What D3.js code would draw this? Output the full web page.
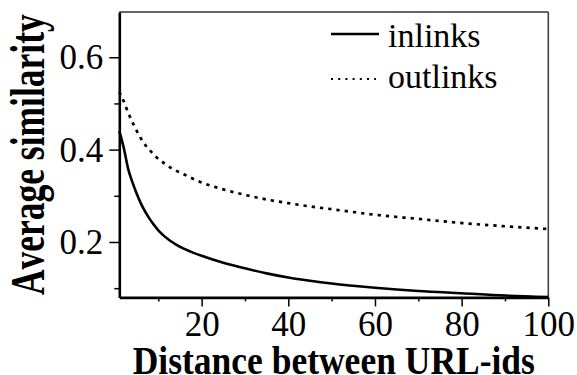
<!DOCTYPE html>
<html>
<head>
<meta charset="utf-8">
<script src="https://cdn.jsdelivr.net/npm/d3@7"></script>
<style>
html,body{margin:0;padding:0;background:#fff;}
svg{display:block;}
text{font-family:"Liberation Serif","Times New Roman",serif;fill:#000;}
</style>
</head>
<body>
<svg id="chart" width="577" height="375"></svg>
<script>
// ---- data ----
const distances = [1,2,3,4,5,6,7,8,9,10,11,12,13,14,16,18,20,25,30,35,40,45,50,60,70,80,90,100];
const inlinks  = [0.440,0.405,0.360,0.330,0.305,0.283,0.265,0.250,0.237,0.225,0.216,0.208,0.201,0.195,0.185,0.177,0.170,0.155,0.143,0.132,0.123,0.116,0.110,0.101,0.094,0.089,0.084,0.081];
const outlinks = [0.525,0.505,0.481,0.460,0.441,0.424,0.410,0.399,0.389,0.380,0.373,0.366,0.360,0.355,0.346,0.337,0.329,0.314,0.302,0.292,0.284,0.277,0.271,0.259,0.250,0.241,0.234,0.228];
const seriesNames = ["inlinks","outlinks"];
const xMajorTicks = [20,40,60,80,100];
const xMinorTicks = [10,30,50,70,90];
const yMajorTicks = [0.2,0.4,0.6];
const yMinorTicks = [0.1,0.3,0.5];
const xTitle = "Distance between URL-ids";
const yTitle = "Average similarity";

const svg = d3.select("#chart");
const L = 119.3, R = 548.3, T = 12, B = 297.4;

const x = d3.scaleLinear().domain([1,100]).range([L,R]);
const y = d3.scaleLinear().domain([0.08,0.698]).range([B,T]);

// frame: thin top/right
svg.append("line").attr("x1",L).attr("x2",R).attr("y1",T).attr("y2",T)
  .attr("stroke","#333").attr("stroke-width",1.3);
svg.append("line").attr("x1",R).attr("x2",R).attr("y1",T).attr("y2",B)
  .attr("stroke","#444").attr("stroke-width",1.6);

// curves
const line = d3.line().x((d,i)=>x(distances[i])).y(d=>y(d)).curve(d3.curveMonotoneX);
svg.append("path").datum(outlinks).attr("d",line).attr("fill","none")
  .attr("stroke","#000").attr("stroke-width",2.7).attr("stroke-dasharray","3.3,5");
svg.append("path").datum(inlinks).attr("d",line).attr("fill","none")
  .attr("stroke","#000").attr("stroke-width",2.6);

// axes
const fmtY = d3.format(".1f");
const gx = svg.append("g").attr("transform",`translate(0,${B})`)
  .call(d3.axisBottom(x).tickValues(xMajorTicks).tickSize(9).tickSizeOuter(0).tickPadding(5));
gx.append("g").call(d3.axisBottom(x).tickValues(xMinorTicks).tickSize(4).tickFormat(""))
  .call(g=>{g.select(".domain").remove(); g.selectAll("text").remove();});
const gy = svg.append("g").attr("transform",`translate(${L},0)`)
  .call(d3.axisLeft(y).tickValues(yMajorTicks).tickSize(10).tickSizeOuter(0).tickPadding(6).tickFormat(fmtY));
gy.append("g").call(d3.axisLeft(y).tickValues(yMinorTicks).tickSize(5).tickFormat(""))
  .call(g=>{g.select(".domain").remove(); g.selectAll("text").remove();});

[gx,gy].forEach(g=>{
  g.selectAll(".domain").attr("stroke","#000").attr("stroke-width",2.6);
  g.selectAll(".tick line").attr("stroke","#000").attr("stroke-width",1.5);
  g.selectAll("text").style("font-family",'"Liberation Serif","Times New Roman",serif')
    .style("font-size","35px").attr("fill","#000");
});
gx.selectAll(".tick text").attr("dy","0").attr("y",38.5);
gy.selectAll(".tick text").attr("dy","0.33em");

// axis titles (tall, bold)
svg.append("g").attr("transform",`translate(${(L+R)/2},373.5)`)
  .append("text").attr("transform","scale(1,1.15)").attr("text-anchor","middle")
  .style("font-size","35.5px").style("font-weight","bold").text(xTitle);
svg.append("g").attr("transform",`translate(44,${(T+B)/2}) rotate(-90)`)
  .append("text").attr("transform","scale(1,1.35)").attr("text-anchor","middle")
  .style("font-size","35.5px").style("font-weight","bold").style("font-kerning","none").text(yTitle);

// legend
const leg = svg.append("g");
const legY = [34,79], legTextY = [47,88];
seriesNames.forEach((name,i)=>{
  leg.append("line").attr("x1",331).attr("x2",i===0?379:376).attr("y1",legY[i]).attr("y2",legY[i])
    .attr("stroke","#000").attr("stroke-width",i===0?2.6:2)
    .attr("stroke-dasharray",i===0?null:"2,5.2");
  leg.append("text").attr("x",388).attr("y",legTextY[i]).style("font-size","34px").text(name);
});
</script>
</body>
</html>
